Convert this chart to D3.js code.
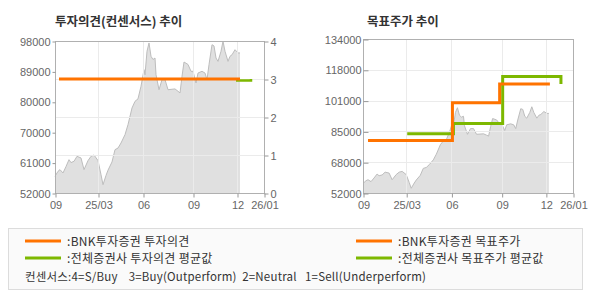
<!DOCTYPE html>
<html>
<head>
<meta charset="utf-8">
<script src="https://cdn.jsdelivr.net/npm/d3@7"></script>
<style>
body{margin:0;background:#fff;}
svg text{font-family:"Liberation Sans",Arial,sans-serif;}
.kr{font-family:"Noto Sans CJK KR","Noto Sans",sans-serif;}
</style>
</head>
<body>
<svg id="chart" width="590" height="300"></svg>
<script>
// x axis (trading-day index) ticks
var xTicks = [0, 43, 88, 138, 182, 209];
var xTickLabels = ["09", "25/03", "06", "09", "12", "26/01"];

// close price
var dayIdx = [0,3,5,8,11,14,16,19,22,26,29,33,36,39,43,46,48,51,53,57,60,63,66,70,73,77,80,83,86,89,90,92,94,96,98,100,101,104,107,110,113,120,123,125,127,129,133,136,138,141,143,147,150,152,154,157,159,161,163,166,168,170,173,175,177,180,183,185];
var closePrice = [57050,58560,59070,58060,60000,62090,61200,61600,63100,62600,59070,61800,63100,63500,61800,57550,54520,57300,58900,61400,65110,65600,67130,69650,72680,77720,79740,80500,84300,89320,87800,94880,97400,93370,92400,92850,87800,83260,86290,86290,83260,83500,82780,82280,87300,91640,90900,88830,88830,85290,88300,88830,88300,86290,90850,96880,96500,92850,91840,94880,97910,94880,91840,93370,93830,95370,94380,94380];

// opinion (1..4)
var bnkOpinionIdx = [4, 185];
var bnkOpinion = [3, 3];
var avgOpinionIdx = [181, 196];
var avgOpinion = [2.96, 3];

// target price
var bnkTargetIdx = [5, 89, 136, 186];
var bnkTarget = [80000, 100000, 110000, 110000];
var avgTargetIdx = [44, 90, 139, 197, 197];
var avgTarget = [83500, 89000, 114000, 114000, 110000];

var leftPriceDomain = [52000, 98000];
var opinionDomain = [0, 4];
var opinionTicks = [0, 1, 2, 3, 4];
var rightPriceDomain = [52000, 134000];

var titles = ["투자의견(컨센서스) 추이", "목표주가 추이"];
var legendLeft = [":BNK투자증권 투자의견", ":전체증권사 투자의견 평균값"];
var legendRight = [":BNK투자증권 목표주가", ":전체증권사 목표주가 평균값"];
var consensusNote = "컨센서스:4=S/Buy    3=Buy(Outperform)  2=Neutral   1=Sell(Underperform)";

var ORANGE = "#ff7300", GREEN = "#7db800";

var svg = d3.select("#chart");

function zip(a, b){ return a.map(function(d,i){ return [d, b[i]]; }); }
function roundK(v){ return String(Math.round(v/1000)*1000); }

function panel(cfg){
  var g = svg.append("g");
  var x = d3.scaleLinear().domain([0, 209]).range([cfg.left, cfg.right]);
  var y = d3.scaleLinear().domain(cfg.yDomain).range([cfg.bottom, cfg.top]);
  var hs = cfg.hScale || y;
  var yTicks = d3.range(6).map(function(i){ return cfg.yDomain[0] + (cfg.yDomain[1]-cfg.yDomain[0])*i/5; });

  g.append("text").attr("class","kr").attr("x", cfg.left + cfg.titleDx).attr("y", 26)
    .attr("font-size", "12.5px").attr("font-weight", "bold").attr("fill", "#333").text(cfg.title);

  // price area
  var area = d3.area().x(function(d){ return x(d[0]); }).y0(cfg.bottom).y1(function(d){ return y(d[1]); });
  var line = d3.line().x(function(d){ return x(d[0]); }).y(function(d){ return y(d[1]); });
  var pts = zip(dayIdx, closePrice);
  g.append("path").attr("d", area(pts)).attr("fill", "#e0e0e0");
  g.append("path").attr("d", line(pts)).attr("fill", "none").attr("stroke", "#bdbdbd").attr("stroke-width", 1);

  // grid
  g.selectAll(".vg").data(xTicks.slice(1, -1)).enter().append("line")
    .attr("x1", function(d){ return Math.round(x(d))+0.5; }).attr("x2", function(d){ return Math.round(x(d))+0.5; })
    .attr("y1", cfg.top).attr("y2", cfg.bottom).attr("stroke", "#ebebeb");
  g.selectAll(".hg").data(cfg.hGrid).enter().append("line")
    .attr("x1", cfg.left).attr("x2", cfg.right)
    .attr("y1", function(d){ return Math.round(hs(d))+0.5; }).attr("y2", function(d){ return Math.round(hs(d))+0.5; })
    .attr("stroke", "#ebebeb");

  // frame
  g.append("rect").attr("x", cfg.left+0.5).attr("y", cfg.top+0.5)
    .attr("width", cfg.right-cfg.left).attr("height", cfg.bottom-cfg.top)
    .attr("fill", "none").attr("stroke", "#b0b0b0");

  // axes
  var ax = g.append("g").attr("transform", "translate(" + (cfg.left+0.5) + ",0.5)")
    .call(d3.axisLeft(y).tickValues(yTicks).tickFormat(roundK).tickSize(cfg.yTickSize).tickPadding(2).tickSizeOuter(0));
  style(ax);
  var bx = g.append("g").attr("transform", "translate(0.5," + (cfg.bottom+0.5) + ")")
    .call(d3.axisBottom(x).tickValues(xTicks).tickFormat(function(d,i){ return xTickLabels[i]; }).tickSize(4).tickPadding(4).tickSizeOuter(0));
  style(bx);
  return {g: g, x: x, y: y};
}

function style(a){
  a.select(".domain").remove();
  a.selectAll(".tick line").attr("stroke", "#999");
  a.selectAll(".tick text").attr("fill", "#666").attr("font-size", "11px").attr("font-family", "'Liberation Sans',Arial,sans-serif");
}

// left: opinion
var yOp = d3.scaleLinear().domain(opinionDomain).range([193, 41]);
var L = panel({left: 55, right: 264, top: 41, bottom: 193, yDomain: leftPriceDomain, yTickSize: 3,
  hGrid: [1, 2, 3], hScale: yOp, title: titles[0], titleDx: 0});
var rax = L.g.append("g").attr("transform", "translate(264.5,0.5)")
  .call(d3.axisRight(yOp).tickValues(opinionTicks).tickFormat(d3.format("d")).tickSize(4).tickPadding(2).tickSizeOuter(0));
style(rax);
var stepL = d3.line().curve(d3.curveStepAfter).x(function(d){ return L.x(d[0]); }).y(function(d){ return yOp(d[1]); });
L.g.append("path").attr("d", stepL(zip(avgOpinionIdx, avgOpinion))).attr("fill", "none").attr("stroke", GREEN).attr("stroke-width", 2.5);
L.g.append("path").attr("d", stepL(zip(bnkOpinionIdx, bnkOpinion))).attr("fill", "none").attr("stroke", ORANGE).attr("stroke-width", 3);

// right: target price
var R = panel({left: 363, right: 573, top: 39, bottom: 193, yDomain: rightPriceDomain, yTickSize: -5,
  hGrid: d3.range(1, 5).map(function(i){ return 52000 + 16400*i; }), hScale: null, title: titles[1], titleDx: 4});
var stepR = d3.line().curve(d3.curveStepAfter).x(function(d){ return R.x(d[0]); }).y(function(d){ return R.y(d[1]); });
R.g.append("path").attr("d", stepR(zip(avgTargetIdx, avgTarget))).attr("fill", "none").attr("stroke", GREEN).attr("stroke-width", 3);
R.g.append("path").attr("d", stepR(zip(bnkTargetIdx, bnkTarget))).attr("fill", "none").attr("stroke", ORANGE).attr("stroke-width", 3);

// legend
var lg = svg.append("g");
lg.append("rect").attr("x", 8.5).attr("y", 228.5).attr("width", 574).attr("height", 61)
  .attr("fill", "#fafafa").attr("stroke", "#dcdcdc");
var cols = [{x: 25, labels: legendLeft}, {x: 356, labels: legendRight}];
cols.forEach(function(c){
  c.labels.forEach(function(t, i){
    var yy = 241 + i*17;
    lg.append("line").attr("x1", c.x).attr("x2", c.x+36).attr("y1", yy).attr("y2", yy)
      .attr("stroke", i === 0 ? ORANGE : GREEN).attr("stroke-width", 3);
    lg.append("text").attr("class", "kr").attr("x", c.x+42).attr("y", yy+4.5)
      .attr("font-size", "12px").attr("letter-spacing", "0.3px").attr("fill", "#333").text(t);
  });
});
lg.append("text").attr("class", "kr").attr("x", 25).attr("y", 281).attr("font-size", "11.5px")
  .attr("letter-spacing", "0.2px").attr("fill", "#333").style("white-space", "pre").text(consensusNote);
</script>
</body>
</html>
